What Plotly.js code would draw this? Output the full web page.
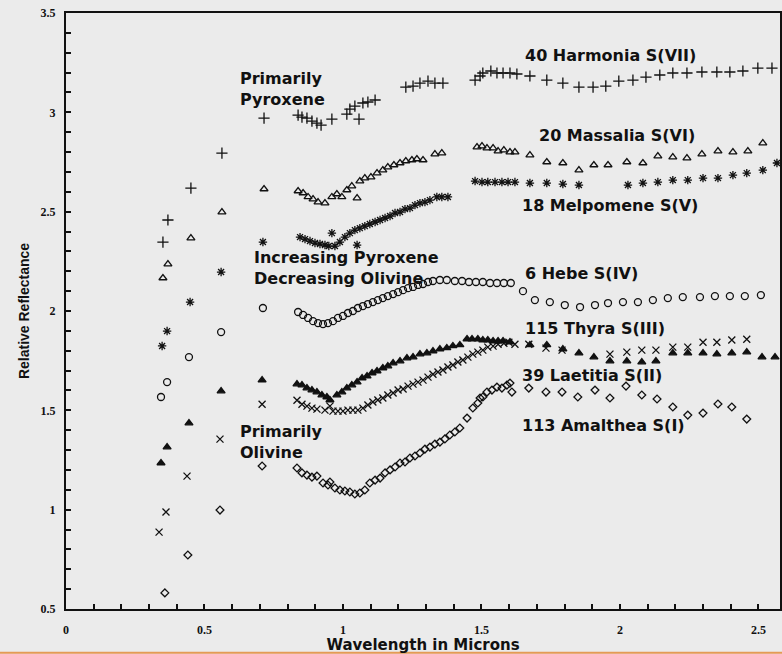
<!DOCTYPE html>
<html>
<head>
<meta charset="utf-8">
<script src="https://cdn.plot.ly/plotly-3.0.1.min.js"></script>
<style>html,body{margin:0;padding:0;background:#ebebeb;}#chart{width:782px;height:654px;}</style>
</head>
<body>
<div id="chart"></div>
<script>
// ---- data (wavelength in microns, relative reflectance) ----
const harmoniaWl = [0.350,0.368,0.451,0.563,0.715,0.838,0.852,0.870,0.888,0.906,0.921,0.960,1.014,1.025,1.043,1.058,1.072,1.090,1.116,1.227,1.253,1.278,1.307,1.332,1.361,1.477,1.495,1.505,1.534,1.556,1.578,1.603,1.628,1.675,1.736,1.794,1.852,1.903,1.949,1.996,2.047,2.094,2.144,2.191,2.242,2.296,2.350,2.397,2.444,2.498,2.549];
const harmoniaRefl = [2.347,2.458,2.619,2.795,2.971,2.986,2.976,2.971,2.956,2.946,2.936,2.966,2.991,3.016,3.031,2.966,3.047,3.052,3.062,3.127,3.132,3.147,3.157,3.147,3.147,3.162,3.183,3.198,3.208,3.198,3.198,3.198,3.193,3.183,3.162,3.147,3.127,3.127,3.132,3.157,3.162,3.177,3.188,3.198,3.198,3.203,3.203,3.203,3.208,3.223,3.223];

const massaliaWl = [0.350,0.368,0.451,0.563,0.715,0.838,0.856,0.874,0.892,0.910,0.935,0.960,0.978,0.996,1.014,1.032,1.051,1.061,1.079,1.101,1.123,1.144,1.162,1.184,1.206,1.227,1.249,1.267,1.289,1.332,1.357,1.484,1.502,1.520,1.542,1.560,1.581,1.603,1.621,1.675,1.736,1.794,1.852,1.906,1.957,2.025,2.083,2.137,2.191,2.242,2.296,2.354,2.408,2.462,2.516];
const massaliaRefl = [2.166,2.236,2.367,2.498,2.614,2.604,2.594,2.574,2.563,2.548,2.543,2.574,2.589,2.574,2.609,2.629,2.568,2.654,2.669,2.674,2.694,2.709,2.724,2.735,2.745,2.755,2.760,2.765,2.760,2.790,2.795,2.825,2.830,2.820,2.820,2.805,2.810,2.800,2.800,2.785,2.750,2.745,2.709,2.735,2.735,2.750,2.745,2.780,2.775,2.770,2.790,2.805,2.800,2.805,2.845];

const melpomeneWl = [0.347,0.365,0.448,0.560,0.711,0.845,0.863,0.881,0.899,0.917,0.935,0.949,0.960,0.971,0.989,1.007,1.025,1.043,1.051,1.061,1.079,1.097,1.116,1.134,1.152,1.170,1.188,1.206,1.224,1.242,1.260,1.278,1.296,1.314,1.339,1.357,1.379,1.477,1.502,1.523,1.549,1.574,1.596,1.621,1.675,1.736,1.794,1.852,2.029,2.083,2.137,2.191,2.245,2.300,2.354,2.408,2.458,2.516,2.567];
const melpomeneRefl = [1.824,1.899,2.045,2.196,2.347,2.372,2.362,2.352,2.342,2.337,2.332,2.327,2.392,2.327,2.347,2.372,2.392,2.407,2.332,2.417,2.427,2.438,2.448,2.458,2.468,2.478,2.493,2.498,2.513,2.518,2.533,2.543,2.548,2.558,2.574,2.574,2.574,2.654,2.649,2.649,2.649,2.649,2.649,2.649,2.644,2.644,2.639,2.634,2.634,2.644,2.649,2.659,2.659,2.669,2.669,2.684,2.694,2.709,2.745];

const hebeWl = [0.343,0.365,0.444,0.560,0.711,0.838,0.856,0.874,0.892,0.910,0.928,0.946,0.964,0.982,1.000,1.018,1.036,1.054,1.072,1.090,1.108,1.126,1.144,1.162,1.181,1.199,1.217,1.235,1.253,1.271,1.289,1.307,1.325,1.350,1.375,1.404,1.430,1.455,1.480,1.505,1.531,1.556,1.581,1.606,1.650,1.693,1.747,1.801,1.856,1.910,1.957,2.011,2.065,2.119,2.173,2.227,2.289,2.343,2.397,2.451,2.509];
const hebeRefl = [1.567,1.642,1.768,1.894,2.015,1.995,1.980,1.965,1.949,1.939,1.934,1.939,1.949,1.965,1.975,1.990,2.000,2.015,2.025,2.035,2.045,2.055,2.065,2.075,2.085,2.095,2.105,2.115,2.121,2.131,2.136,2.146,2.151,2.156,2.156,2.151,2.151,2.146,2.146,2.146,2.141,2.141,2.141,2.141,2.100,2.055,2.045,2.030,2.020,2.030,2.040,2.045,2.045,2.055,2.065,2.070,2.070,2.075,2.075,2.075,2.080];

const thyraWl = [0.343,0.365,0.444,0.560,0.708,0.834,0.852,0.870,0.888,0.906,0.924,0.942,0.953,0.978,0.996,1.014,1.032,1.051,1.069,1.087,1.105,1.123,1.144,1.162,1.181,1.206,1.231,1.253,1.278,1.303,1.325,1.350,1.375,1.397,1.422,1.448,1.466,1.487,1.505,1.523,1.542,1.560,1.578,1.603,1.675,1.736,1.794,1.852,1.906,1.964,2.025,2.079,2.130,2.191,2.245,2.300,2.350,2.404,2.458,2.513,2.560];
const thyraRefl = [1.235,1.315,1.436,1.597,1.652,1.632,1.627,1.612,1.602,1.592,1.577,1.567,1.552,1.577,1.592,1.612,1.627,1.642,1.662,1.672,1.688,1.698,1.713,1.723,1.738,1.748,1.763,1.768,1.783,1.788,1.798,1.808,1.814,1.824,1.829,1.859,1.859,1.859,1.854,1.854,1.849,1.849,1.849,1.844,1.829,1.829,1.808,1.788,1.768,1.748,1.748,1.743,1.748,1.788,1.788,1.788,1.783,1.788,1.793,1.768,1.768];

const laetitiaWl = [0.336,0.361,0.437,0.556,0.708,0.834,0.852,0.870,0.888,0.906,0.935,0.953,0.964,0.982,1.000,1.018,1.036,1.054,1.072,1.090,1.108,1.126,1.144,1.162,1.181,1.199,1.217,1.235,1.253,1.271,1.289,1.307,1.325,1.343,1.361,1.379,1.397,1.415,1.433,1.451,1.469,1.487,1.505,1.523,1.542,1.560,1.581,1.599,1.621,1.671,1.733,1.791,1.964,2.025,2.079,2.130,2.191,2.245,2.300,2.350,2.404,2.458];
const laetitiaRefl = [0.887,0.988,1.169,1.355,1.531,1.551,1.531,1.521,1.511,1.506,1.501,1.521,1.496,1.496,1.496,1.501,1.501,1.501,1.511,1.527,1.542,1.552,1.562,1.577,1.587,1.602,1.607,1.622,1.632,1.642,1.652,1.667,1.682,1.693,1.703,1.718,1.728,1.743,1.753,1.768,1.783,1.793,1.803,1.818,1.823,1.833,1.838,1.843,1.833,1.833,1.813,1.803,1.783,1.793,1.803,1.803,1.818,1.818,1.843,1.843,1.854,1.858];

const amaltheaWl = [0.357,0.440,0.556,0.708,0.834,0.852,0.870,0.888,0.906,0.928,0.946,0.953,0.971,0.989,1.007,1.025,1.043,1.061,1.079,1.097,1.116,1.134,1.152,1.170,1.188,1.206,1.224,1.242,1.260,1.278,1.296,1.314,1.332,1.350,1.368,1.386,1.404,1.422,1.448,1.469,1.487,1.495,1.505,1.520,1.538,1.556,1.574,1.592,1.603,1.610,1.671,1.733,1.791,1.848,1.910,1.964,2.022,2.079,2.134,2.191,2.245,2.300,2.354,2.404,2.458];
const amaltheaRefl = [0.581,0.772,0.998,1.220,1.210,1.185,1.174,1.164,1.169,1.134,1.124,1.139,1.109,1.099,1.094,1.089,1.079,1.084,1.099,1.134,1.149,1.159,1.185,1.200,1.215,1.235,1.240,1.260,1.270,1.285,1.305,1.315,1.330,1.340,1.356,1.376,1.391,1.411,1.461,1.512,1.537,1.562,1.567,1.592,1.602,1.617,1.612,1.627,1.637,1.592,1.612,1.592,1.592,1.567,1.602,1.562,1.622,1.577,1.557,1.517,1.476,1.486,1.532,1.517,1.456];

const seriesNames = ["40 Harmonia S(VII)","20 Massalia S(VI)","18 Melpomene S(V)","6 Hebe S(IV)","115 Thyra S(III)","39 Laetitia S(II)","113 Amalthea S(I)"];
const xTickVals = [0,0.5,1,1.5,2,2.5];
const xTickText = ["0","0.5","1","1.5","2","2.5"];
const yTickVals = [0.5,1,1.5,2,2.5,3,3.5];
const yTickText = ["0.5","1","1.5","2","2.5","3","3.5"];

// every 0.1 gets a tick mark; only the values above carry a label
function tickSet(vals, texts, from, to) {
  const v = [], t = [];
  for (let k = Math.round(from*10); k <= Math.round(to*10); k++) {
    const val = +(k/10).toFixed(1);
    const idx = vals.findIndex(a => Math.abs(a - val) < 1e-9);
    v.push(val); t.push(idx >= 0 ? texts[idx] : "");
  }
  return {v, t};
}
const xTicks = tickSet(xTickVals, xTickText, 0, 2.5);
const yTicks = tickSet(yTickVals, yTickText, 0.5, 3.5);

// ---- styling ----
const wls = [harmoniaWl,massaliaWl,melpomeneWl,hebeWl,thyraWl,laetitiaWl,amaltheaWl];
const refls = [harmoniaRefl,massaliaRefl,melpomeneRefl,hebeRefl,thyraRefl,laetitiaRefl,amaltheaRefl];
const symbols = ["cross-thin-open","triangle-up-open","asterisk-open","circle-open","triangle-up","x-thin-open","diamond-open"];
const sizes = [8,7,7,7,7,7,6];

const traces = seriesNames.map((n,i)=>({
  type:"scatter", mode:"markers", name:n, x:wls[i], y:refls[i],
  marker:{symbol:symbols[i], size:sizes[i], color:"#111", line:{color:"#111", width:1.3}},
  showlegend:false, cliponaxis:false
}));

const labelFont = {family:"DejaVu Sans, Arial", size:16, color:"#111", weight:"bold"};
const seriesLabelPos = [[1.650,3.288],[1.700,2.881],[1.639,2.533],[1.650,2.191],[1.650,1.914],[1.639,1.673],[1.639,1.426]];
const annotations = seriesNames.map((n,i)=>({
  text:n, x:seriesLabelPos[i][0], y:seriesLabelPos[i][1], xref:"x", yref:"y",
  xanchor:"left", yanchor:"middle", showarrow:false, font:labelFont
}));
annotations.push(
  {text:"Primarily<br>Pyroxene", x:0.621, y:3.117, xref:"x", yref:"y", xanchor:"left", yanchor:"middle", align:"left", showarrow:false, font:labelFont},
  {text:"Increasing Pyroxene<br>Decreasing Olivine", x:0.671, y:2.216, xref:"x", yref:"y", xanchor:"left", yanchor:"middle", align:"left", showarrow:false, font:labelFont},
  {text:"Primarily<br>Olivine", x:0.621, y:1.340, xref:"x", yref:"y", xanchor:"left", yanchor:"middle", align:"left", showarrow:false, font:labelFont}
);

const tickFont = {family:"Liberation Serif, Times New Roman, serif", size:12, color:"#111", weight:"bold"};

const layout = {
  width:782, height:654,
  margin:{l:66, r:2, t:13, b:45},
  paper_bgcolor:"#ebebeb", plot_bgcolor:"#ebebeb",
  xaxis:{
    range:[0,2.578], showgrid:false, zeroline:false,
    showline:true, linecolor:"#111", linewidth:2, mirror:true,
    tickmode:"array", tickvals:xTicks.v, ticktext:xTicks.t,
    ticks:"inside", ticklen:5, tickwidth:2, tickcolor:"#111",
    tickfont:tickFont, ticklabelstandoff:9,
    title:{text:"Wavelength in Microns", font:{family:"DejaVu Sans, Arial", size:15, color:"#111", weight:"bold"}, standoff:7}
  },
  yaxis:{
    range:[0.5,3.5], showgrid:false, zeroline:false,
    showline:true, linecolor:"#111", linewidth:2, mirror:true,
    tickmode:"array", tickvals:yTicks.v, ticktext:yTicks.t,
    ticks:"inside", ticklen:5, tickwidth:2, tickcolor:"#111",
    tickfont:tickFont, ticklabelstandoff:6,
    title:{text:"Relative Reflectance", font:{family:"Liberation Sans, Arial", size:14, color:"#111", weight:"bold"}, standoff:8}
  },
  annotations:annotations,
  shapes:[{type:"line", xref:"paper", yref:"paper", x0:-0.1, x1:1.01, y0:-0.0735, y1:-0.0735, line:{color:"#e59a55", width:2}}]
};

Plotly.newPlot("chart", traces, layout, {staticPlot:true, displayModeBar:false});
</script>
</body>
</html>
